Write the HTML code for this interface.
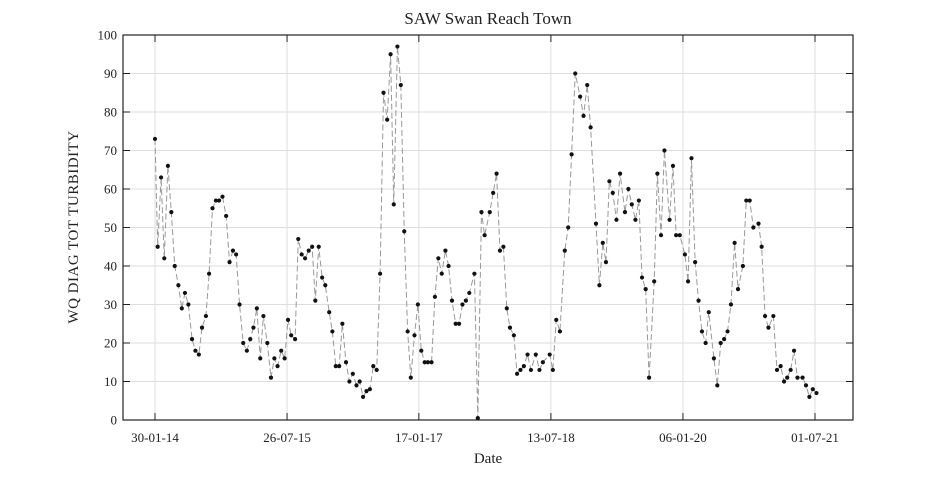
<!DOCTYPE html>
<html><head><meta charset="utf-8"><style>
body{margin:0;background:#fff}
svg text{font-family:"Liberation Serif",serif;fill:#222}
</style></head><body>
<svg id="chart" width="945" height="472" xmlns="http://www.w3.org/2000/svg">
<text x="488" y="24" font-size="17" text-anchor="middle">SAW Swan Reach Town</text>
<text x="488" y="463" font-size="15" text-anchor="middle">Date</text>
<text transform="translate(78,227) rotate(-90)" font-size="15" text-anchor="middle" letter-spacing="0.5">WQ DIAG TOT TURBIDITY</text>
<g id="grid"></g>
<g id="axes"></g>
<g id="series"></g>
</svg>
<script>
const days=[0,11,25,38,53,67,81,96,110,123,137,152,166,180,193,209,222,236,250,263,277,292,306,320,333,347,362,377,391,404,418,432,445,461,476,490,503,518,532,546,559,575,588,602,616,631,645,658,672,686,699,715,728,742,756,769,784,798,812,827,840,854,868,882,896,910,924,938,953,967,980,995,1009,1023,1037,1050,1065,1079,1093,1107,1120,1135,1149,1163,1177,1192,1205,1219,1234,1248,1262,1276,1290,1311,1325,1340,1353,1374,1388,1402,1416,1430,1444,1457,1473,1486,1500,1514,1529,1543,1563,1578,1592,1620,1633,1647,1662,1682,1696,1710,1725,1745,1759,1774,1788,1810,1824,1838,1851,1865,1879,1894,1909,1929,1943,1957,1972,1986,1999,2014,2028,2049,2062,2077,2091,2112,2126,2139,2154,2175,2188,2202,2217,2231,2245,2260,2273,2294,2308,2322,2336,2350,2364,2379,2393,2413,2427,2441,2456,2477,2490,2504,2518,2538,2553,2568,2582,2595,2609,2623,2637,2658,2672,2686,2700,2715];
const values=[73,45,63,42,66,54,40,35,29,33,30,21,18,17,24,27,38,55,57,57,58,53,41,44,43,30,20,18,21,24,29,16,27,20,11,16,14,18,16,26,22,21,47,43,42,44,45,31,45,37,35,28,23,14,14,25,15,10,12,9,10,6,7.5,8,14,13,38,85,78,95,56,97,87,49,23,11,22,30,18,15,15,15,32,42,38,44,40,31,25,25,30,31,33,38,0.5,54,48,54,59,64,44,45,29,24,22,12,13,14,17,13,17,13,15,17,13,26,23,44,50,69,90,84,79,87,76,51,35,46,41,62,59,52,64,54,60,56,52,57,37,34,11,36,64,48,70,52,66,48,48,43,36,68,41,31,23,20,28,16,9,20,21,23,30,46,34,40,57,57,50,51,45,27,24,27,13,14,10,11,13,18,11,11,9,6,8,7];
const xTickDays=[0,542,1083,1625,2167,2709];
const xTickLabels=["30-01-14","26-07-15","17-01-17","13-07-18","06-01-20","01-07-21"];
const yTicks=[0,10,20,30,40,50,60,70,80,90,100];
const L=123,R=853,T=35,B=420;
const x=d=>155+(d-0)*(815-155)/(2709-0);
const y=v=>B-(v/100)*(B-T);
const NS="http://www.w3.org/2000/svg";
function mk(tag,attrs,parent){const e=document.createElementNS(NS,tag);for(const k in attrs)e.setAttribute(k,attrs[k]);parent.appendChild(e);return e;}
const grid=document.getElementById('grid'),axes=document.getElementById('axes'),ser=document.getElementById('series');
yTicks.forEach(v=>{
 const g=mk('line',{x1:L,x2:R,y1:y(v),y2:y(v),stroke:'#dedede','stroke-width':1},grid);
 
 
 mk('line',{x1:L,x2:L+7,y1:y(v),y2:y(v),stroke:'#222'},axes);
 mk('line',{x1:R,x2:R-7,y1:y(v),y2:y(v),stroke:'#222'},axes);
 const t=mk('text',{x:L-6,y:y(v)+4.5,'font-size':13,'text-anchor':'end'},axes);
 
 
 t.textContent=v;
});
xTickDays.forEach((d,i)=>{
 const g=mk('line',{x1:x(d),x2:x(d),y1:T,y2:B,stroke:'#dedede'},grid);
 
 
 mk('line',{x1:x(d),x2:x(d),y1:B,y2:B-7,stroke:'#222'},axes);
 mk('line',{x1:x(d),x2:x(d),y1:T,y2:T+7,stroke:'#222'},axes);
 const t=mk('text',{x:x(d),y:B+22,'font-size':13,'text-anchor':'middle'},axes);
 
 
 t.textContent=xTickLabels[i];
});
const box=mk('rect',{x:L,y:T,width:R-L,height:B-T,fill:'none',stroke:'#222','stroke-width':1.2},axes);


const line=mk('polyline',{points:days.map((d,i)=>x(d)+','+y(values[i])).join(' '),fill:'none',stroke:'#999','stroke-width':1,'stroke-dasharray':'6,3'},ser);


days.forEach((d,i)=>{
 const c=mk('circle',{cx:x(d),cy:y(values[i]),r:2.1,fill:'#111'},ser);
 
 
});
</script>
</body></html>
